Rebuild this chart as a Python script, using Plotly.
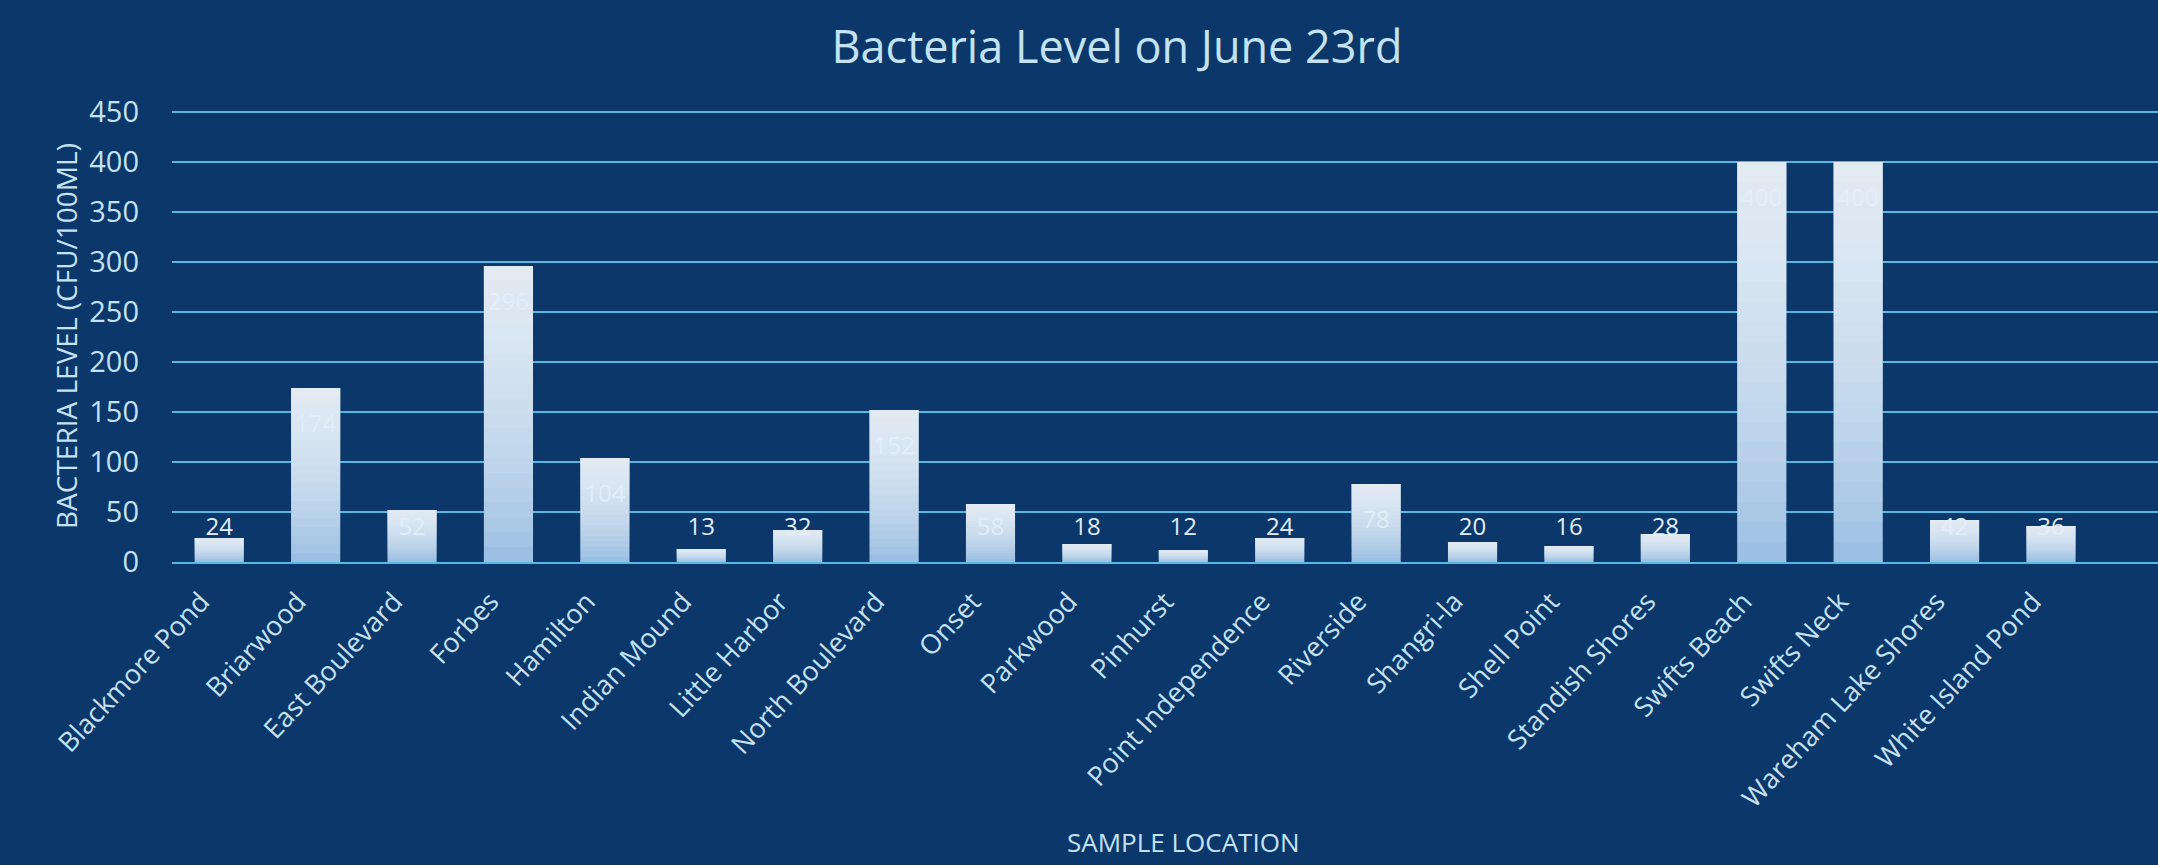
import numpy as np
import plotly.graph_objects as go

locations = ["Blackmore Pond", "Briarwood", "East Boulevard", "Forbes", "Hamilton",
             "Indian Mound", "Little Harbor", "North Boulevard", "Onset", "Parkwood",
             "Pinhurst", "Point Independence", "Riverside", "Shangri-la", "Shell Point",
             "Standish Shores", "Swifts Beach", "Swifts Neck", "Wareham Lake Shores",
             "White Island Pond"]
bacteria = [24, 174, 52, 296, 104, 13, 32, 152, 58, 18, 12, 24, 78, 20, 16, 28, 400, 400, 42, 36]
y_ticks = [0, 50, 100, 150, 200, 250, 300, 350, 400, 450]

W, H = 2158, 865
ML, MR, MT, MB = 172, 0, 110, 303

BG = "#0b376a"
GRID = "#58b8e2"
TXT = "#c4e2f2"
FONT = "Open Sans"

vals = np.array(bacteria, dtype=float)
fig = go.Figure()

# base bar (light blue)
fig.add_trace(go.Bar(x=locations, y=vals, width=0.51, marker=dict(color="#9cc0e4", line=dict(width=0)),
                     showlegend=False, hoverinfo="skip"))
# gradient overlays toward white at top
N = 20
for k in range(1, N):
    frac = k / N
    fig.add_trace(go.Bar(x=locations, y=vals * (1 - frac), base=vals * frac, width=0.51,
                         marker=dict(color="rgba(255,255,255,0.07)", line=dict(width=0)),
                         showlegend=False, hoverinfo="skip"))

# data labels
fig.add_trace(go.Scatter(x=locations, y=np.maximum(vals - 38, 33), mode="text",
                         text=[str(v) for v in bacteria],
                         textfont=dict(family=FONT, size=24, color="#e2eef8"),
                         showlegend=False, hoverinfo="skip", cliponaxis=False))

fig.update_layout(
    width=W, height=H,
    paper_bgcolor=BG, plot_bgcolor=BG,
    margin=dict(l=ML, r=MR, t=MT, b=MB),
    barmode="overlay",
    title=dict(text="Bacteria Level on June 23rd", x=(1117) / W, xanchor="center",
               y=1 - 47 / H, yanchor="middle",
               font=dict(family=FONT, size=45, color=TXT)),
    font=dict(family=FONT, color=TXT),
    xaxis=dict(range=[-0.49, 20.11], tickangle=-47, showgrid=False, ticks="",
               tickfont=dict(family=FONT, size=27, color=TXT),
               showline=True, linecolor=GRID, linewidth=2, zeroline=False,
               ticklabelstandoff=11, ticklabelshift=-18),
    yaxis=dict(range=[0, 452], tickvals=y_ticks, showgrid=True, gridcolor=GRID, gridwidth=2,
               zeroline=False, showline=False, ticks="",
               tickfont=dict(family=FONT, size=29, color=TXT), ticklabelstandoff=32),
    annotations=[
        dict(text="BACTERIA LEVEL (CFU/100ML)", textangle=-90, xref="paper", yref="paper",
             x=(66 - ML) / (W - ML - MR), y=0.5, xanchor="center", yanchor="middle",
             showarrow=False, font=dict(family=FONT, size=28, color=TXT)),
        dict(text="SAMPLE LOCATION", xref="paper", yref="paper",
             x=(1183 - ML) / (W - ML - MR), y=-(842 - (H - MB)) / (H - MT - MB),
             xanchor="center", yanchor="middle",
             showarrow=False, font=dict(family=FONT, size=26, color=TXT)),
    ],
)

fig.write_html("out.html", config={"displayModeBar": False},
               post_script="document.body.style.margin='0';document.body.style.background='%s';" % BG)
